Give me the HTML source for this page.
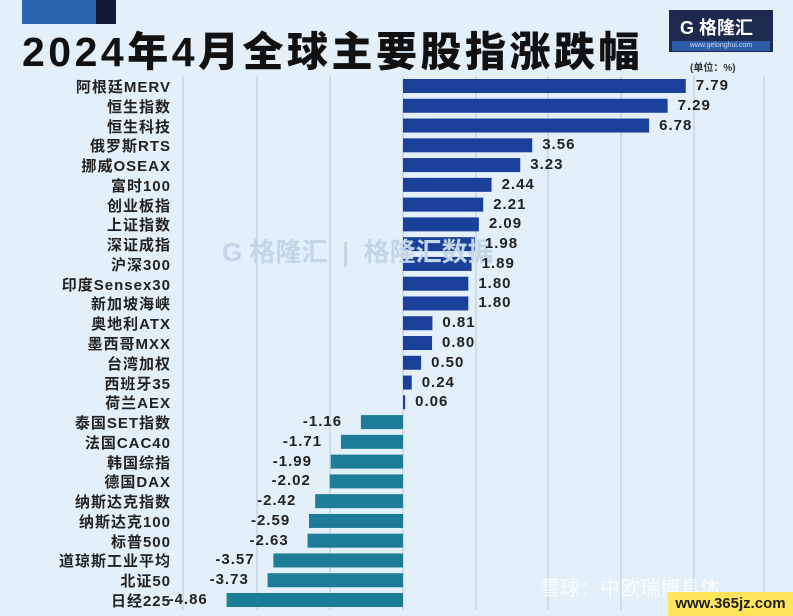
<!DOCTYPE html><html><head><meta charset="utf-8"><style>
body{margin:0;width:793px;height:616px;overflow:hidden;background:#e3f0fa;font-family:"Liberation Sans","Noto Sans CJK SC",sans-serif;position:relative}
.a{position:absolute}
.t{left:22px;top:18px;font-size:41px;font-weight:900;color:#111;letter-spacing:3.5px;white-space:nowrap}
.lab{width:171px;text-align:right;font-size:15px;font-weight:bold;color:#222;left:0;letter-spacing:1px;white-space:nowrap}
.val{font-size:15px;font-weight:bold;color:#222;letter-spacing:1px}
</style></head><body>
<div class="a" style="left:22px;top:0;width:74px;height:24px;background:#2b63b0"></div>
<div class="a" style="left:96px;top:0;width:20px;height:24px;background:#141a35"></div>
<div class="a t">2024年4月全球主要股指涨跌幅</div>
<div class="a" style="left:669px;top:10px;width:104px;height:42px;background:#1d2a4d"></div>
<div class="a" style="left:680px;top:14px;color:#fff;font-size:18px;font-weight:bold">G 格隆汇</div>
<div class="a" style="left:672px;top:41px;width:98px;height:10px;background:#2e5ca8;color:#cde;font-size:7px;text-align:center;line-height:10px">www.gelonghui.com</div>
<svg class="a" style="left:0;top:0" width="793" height="616" id="s"></svg>
<div class="a" style="left:690px;top:59px;font-size:10px;font-weight:bold;color:#333">(单位：%)</div>
<div class="a" style="left:222px;top:232px;font-size:26px;color:#c3d6e8;font-weight:bold">G 格隆汇 &nbsp;|&nbsp; 格隆汇数据</div>
<div class="a" style="left:540px;top:572px;font-size:20px;color:#fff;opacity:.8">雪球：中欧瑞博具体</div>
<div class="a" style="left:668px;top:592px;width:125px;height:24px;background:#ffe45c;color:#222;font-size:15px;font-weight:bold;text-align:center;line-height:24px">www.365jz.com</div>
<script>
var d=[["阿根廷MERV",7.79],["恒生指数",7.29],["恒生科技",6.78],["俄罗斯RTS",3.56],["挪威OSEAX",3.23],["富时100",2.44],["创业板指",2.21],["上证指数",2.09],["深证成指",1.98],["沪深300",1.89],["印度Sensex30",1.80],["新加坡海峡",1.80],["奥地利ATX",0.81],["墨西哥MXX",0.80],["台湾加权",0.50],["西班牙35",0.24],["荷兰AEX",0.06],["泰国SET指数",-1.16],["法国CAC40",-1.71],["韩国综指",-1.99],["德国DAX",-2.02],["纳斯达克指数",-2.42],["纳斯达克100",-2.59],["标普500",-2.63],["道琼斯工业平均",-3.57],["北证50",-3.73],["日经225",-4.86]];
var s=document.getElementById('s'),h='',z=403,k=36.3;
[183,257,330,476,548,621,694,764].forEach(function(x){h+='<line x1="'+x+'" y1="76" x2="'+x+'" y2="610" stroke="#b8c8d8" stroke-width="1"/>'});
h+='<line x1="403" y1="76" x2="403" y2="610" stroke="#b8c8d8"/>';
var p=(600-86)/26;
d.forEach(function(r,i){var y=86+i*p,v=r[1],w=Math.max(Math.abs(v)*k,2),x=v>=0?z:z-w;
h+='<rect x="'+x+'" y="'+(y-7)+'" width="'+w+'" height="14" fill="'+(v>=0?'#1b409b':'#1e7c98')+'"/>';
document.body.insertAdjacentHTML('beforeend','<div class="a lab" style="top:'+(y-10)+'px">'+r[0]+'</div>');
var t=v.toFixed(2);var vx=v>=0?(x+w+10):(x-8-t.length*10);
document.body.insertAdjacentHTML('beforeend','<div class="a val" style="left:'+vx+'px;top:'+(y-9)+'px">'+t+'</div>');});
s.innerHTML=h;
</script>
</body></html>
